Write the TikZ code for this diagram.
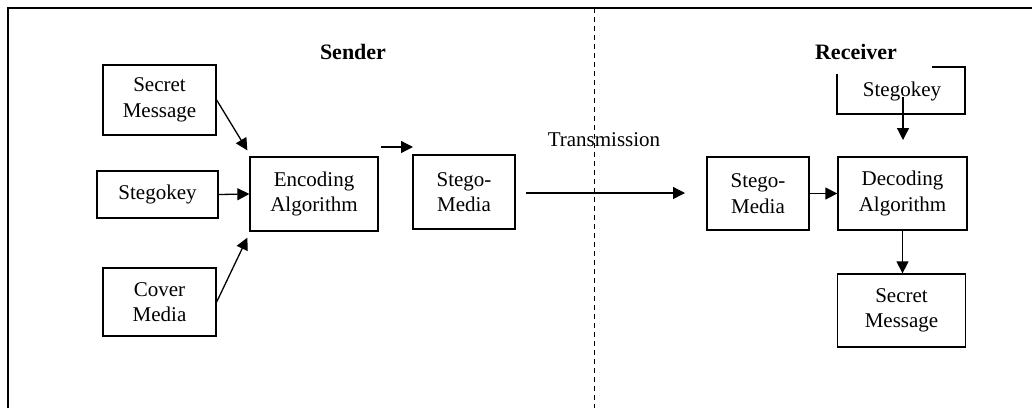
\documentclass[tikz,border=0pt]{standalone}
\usepackage{fontspec}
\setmainfont{Liberation Serif}
\usetikzlibrary{arrows.meta}
\tikzset{
  box/.style={draw, line width=1.3pt, align=center, inner sep=0pt,
              font=\fontsize{21}{25.5}\selectfont},
  plain/.style={align=center, inner sep=0pt, font=\fontsize{21}{25.5}\selectfont},
  head/.style={inner sep=0pt, font=\fontsize{22}{26}\selectfont\bfseries},
  arr/.style={line width=1.3pt, -{Triangle[length=12pt,width=12pt]}},
  frame/.style={line width=1.3pt},
  divider/.style={line width=1pt, dash pattern=on 5pt off 4pt}
}
\begin{document}
\begin{tikzpicture}[x=1pt,y=-1pt]
\useasboundingbox (0,0) rectangle (1032,408);

% outer frame (left and top edges)
\draw[frame] (8,408) -- (8,8) -- (1032,8);
% sender / receiver divider
\draw[divider] (594,8) -- (594,408);

% headings
\node[head] (sender) at (353,52) {Sender};
\node[head] (receiver) at (856,52) {Receiver};

% sender side
\node[box, minimum width=113pt, minimum height=70pt] (secretL) at (159.5,100) {Secret\\Message};
\node[box, minimum width=121pt, minimum height=47pt] (keyL) at (157.5,194.5) {Stegokey};
\node[box, minimum width=113pt, minimum height=68pt] (cover) at (159.5,302) {Cover\\Media};
\node[box, minimum width=128pt, minimum height=74pt] (enc) at (314,194) {Encoding\\Algorithm};
\node[box, minimum width=102pt, minimum height=74pt] (stegoL) at (464,192) {Stego-\\Media};

\draw[arr] (secretL.east) -- ([xshift=-2pt,yshift=6pt]enc.north west);
\draw[arr] (keyL.east) -- (enc.west);
\draw[arr] (cover.east) -- ([xshift=-2pt,yshift=-6pt]enc.south west);

\coordinate (outA) at (381,147);
\coordinate (outB) at (413,147);
\draw[arr] (outA) -- (outB);

% transmission
\node[plain] (trans) at (604,140) {Transmission};
\coordinate (txA) at (526,193);
\coordinate (txB) at (685,193);
\draw[arr] (txA) -- (txB);

% receiver side
\node[box, minimum width=102pt, minimum height=73pt] (stegoR) at (758,193.5) {Stego-\\Media};
\node[box, minimum width=129pt, minimum height=73pt] (dec) at (902.5,193.5) {Decoding\\Algorithm};
\node[box, minimum width=128pt, minimum height=73pt] (secretR) at (901.5,310.5) {Secret\\Message};

% open key box
\node[plain] (keyR) at (902,91) {Stegokey};
\draw[frame] (837,74) -- (837,114) -- (965,114) -- (965,67) -- (932,67);
\coordinate (keyTip) at (903,140);
\draw[arr] (903,97) -- (keyTip);

\draw[arr] (stegoR.east) -- (dec.west);
\draw[arr] (dec.south) -- (dec.south |- secretR.north);
\end{tikzpicture}
\end{document}
